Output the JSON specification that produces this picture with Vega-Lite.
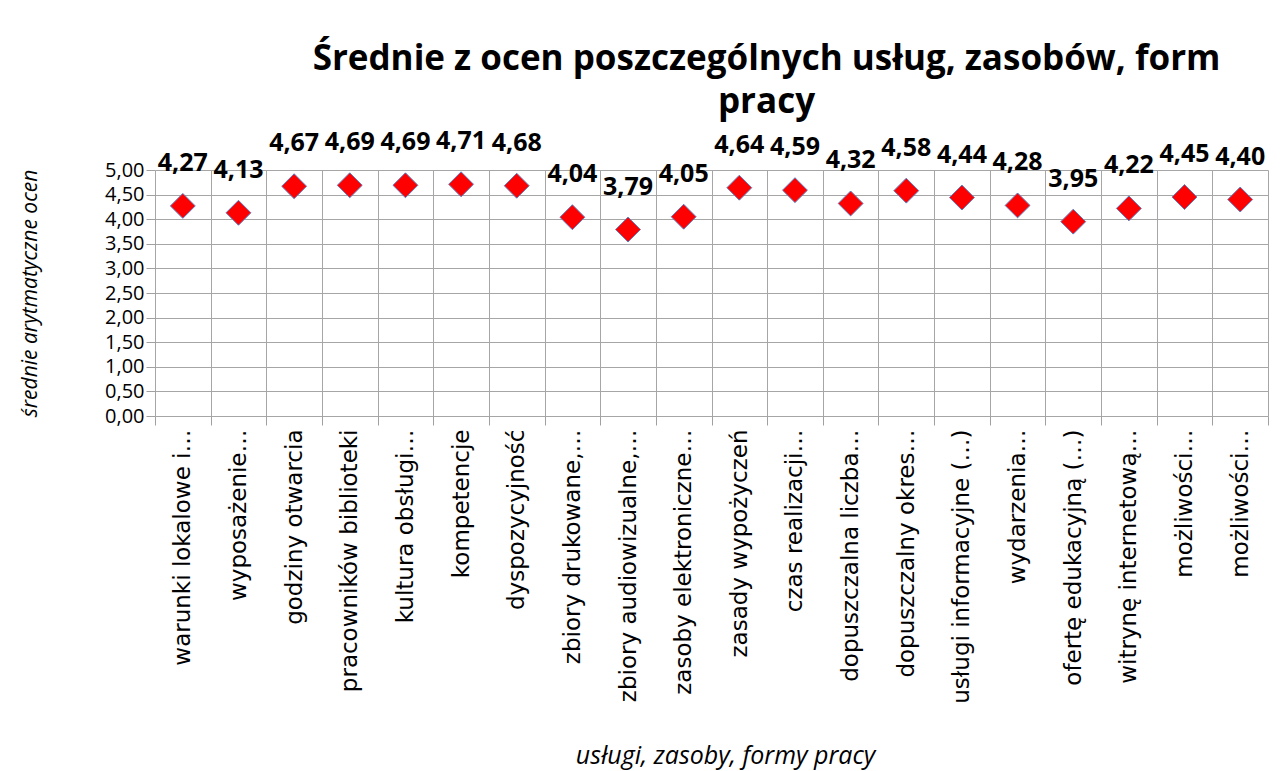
{
  "$schema": "https://vega.github.io/schema/vega-lite/v6.json",
  "autosize": {"type": "none"},
  "padding": {"left": 155, "top": 170, "right": 19, "bottom": 355},
  "width": 1113,
  "height": 246,
  "background": "white",
  "config": {
    "locale": {"number": {"decimal": ",", "thousands": " ", "grouping": [3], "currency": ["", " zł"]}},
    "view": {"stroke": null},
    "font": "Open Sans"
  },
  "title": {
    "text": ["Średnie z ocen poszczególnych usług, zasobów, form", "pracy"],
    "font": "Open Sans",
    "fontSize": 35,
    "fontWeight": "bold",
    "color": "black",
    "lineHeight": 43,
    "anchor": "middle",
    "frame": "group",
    "dx": 55,
    "offset": 9
  },
  "data": {
    "values": [
      {"kategoria": "warunki lokalowe i…", "srednia": 4.27},
      {"kategoria": "wyposażenie…", "srednia": 4.13},
      {"kategoria": "godziny otwarcia", "srednia": 4.67},
      {"kategoria": "pracowników biblioteki", "srednia": 4.69},
      {"kategoria": "kultura obsługi…", "srednia": 4.69},
      {"kategoria": "kompetencje", "srednia": 4.71},
      {"kategoria": "dyspozycyjność", "srednia": 4.68},
      {"kategoria": "zbiory drukowane,…", "srednia": 4.04},
      {"kategoria": "zbiory audiowizualne,…", "srednia": 3.79},
      {"kategoria": "zasoby elektroniczne…", "srednia": 4.05},
      {"kategoria": "zasady wypożyczeń", "srednia": 4.64},
      {"kategoria": "czas realizacji…", "srednia": 4.59},
      {"kategoria": "dopuszczalna liczba…", "srednia": 4.32},
      {"kategoria": "dopuszczalny okres…", "srednia": 4.58},
      {"kategoria": "usługi informacyjne (…)", "srednia": 4.44},
      {"kategoria": "wydarzenia…", "srednia": 4.28},
      {"kategoria": "ofertę edukacyjną (…)", "srednia": 3.95},
      {"kategoria": "witrynę internetową…", "srednia": 4.22},
      {"kategoria": "możliwości…", "srednia": 4.45},
      {"kategoria": "możliwości…\u200b", "srednia": 4.40}
    ]
  },
  "encoding": {
    "x": {
      "field": "kategoria",
      "type": "nominal",
      "sort": null,
      "scale": {"paddingInner": 0, "paddingOuter": 0},
      "axis": {
        "title": "usługi, zasoby, formy pracy",
        "titleFont": "Open Sans",
        "titleFontStyle": "italic",
        "titleFontWeight": "normal",
        "titleFontSize": 25,
        "titleColor": "black",
        "titleX": 570,
        "titleY": 327,
        "labelAngle": -90,
        "labelAlign": "right",
        "labelBaseline": "middle",
        "labelFont": "DejaVu Sans",
        "labelFontSize": 23,
        "labelColor": "black",
        "labelPadding": 4,
        "labelLimit": 400,
        "tickBand": "extent",
        "tickSize": 9,
        "tickColor": "#a0a0a0",
        "grid": true,
        "gridColor": "#a6a6a6",
        "gridWidth": 1,
        "domain": false
      }
    },
    "y": {
      "field": "srednia",
      "type": "quantitative",
      "scale": {"domain": [0, 5], "nice": false, "zero": true},
      "axis": {
        "title": "średnie arytmatyczne ocen",
        "titleFont": "Open Sans",
        "titleFontStyle": "italic",
        "titleFontWeight": "normal",
        "titleFontSize": 21,
        "titleColor": "black",
        "titlePadding": 64,
        "values": [0, 0.5, 1, 1.5, 2, 2.5, 3, 3.5, 4, 4.5, 5],
        "format": ".2f",
        "labelFont": "Open Sans",
        "labelFontSize": 20,
        "labelColor": "black",
        "labelPadding": 2,
        "tickSize": 9,
        "tickColor": "#a0a0a0",
        "grid": true,
        "gridColor": "#a6a6a6",
        "gridWidth": 1,
        "domain": false
      }
    }
  },
  "layer": [
    {
      "mark": {"type": "point", "shape": "diamond", "filled": true, "size": 620, "fill": "#ff0000", "stroke": "#5b7fc4", "strokeWidth": 1, "opacity": 1}
    },
    {
      "mark": {"type": "text", "dy": -43, "baseline": "middle", "align": "center", "font": "Open Sans", "fontSize": 25, "fontWeight": "bold", "color": "black"},
      "encoding": {
        "text": {"field": "srednia", "type": "quantitative", "format": ".2f"}
      }
    }
  ]
}
